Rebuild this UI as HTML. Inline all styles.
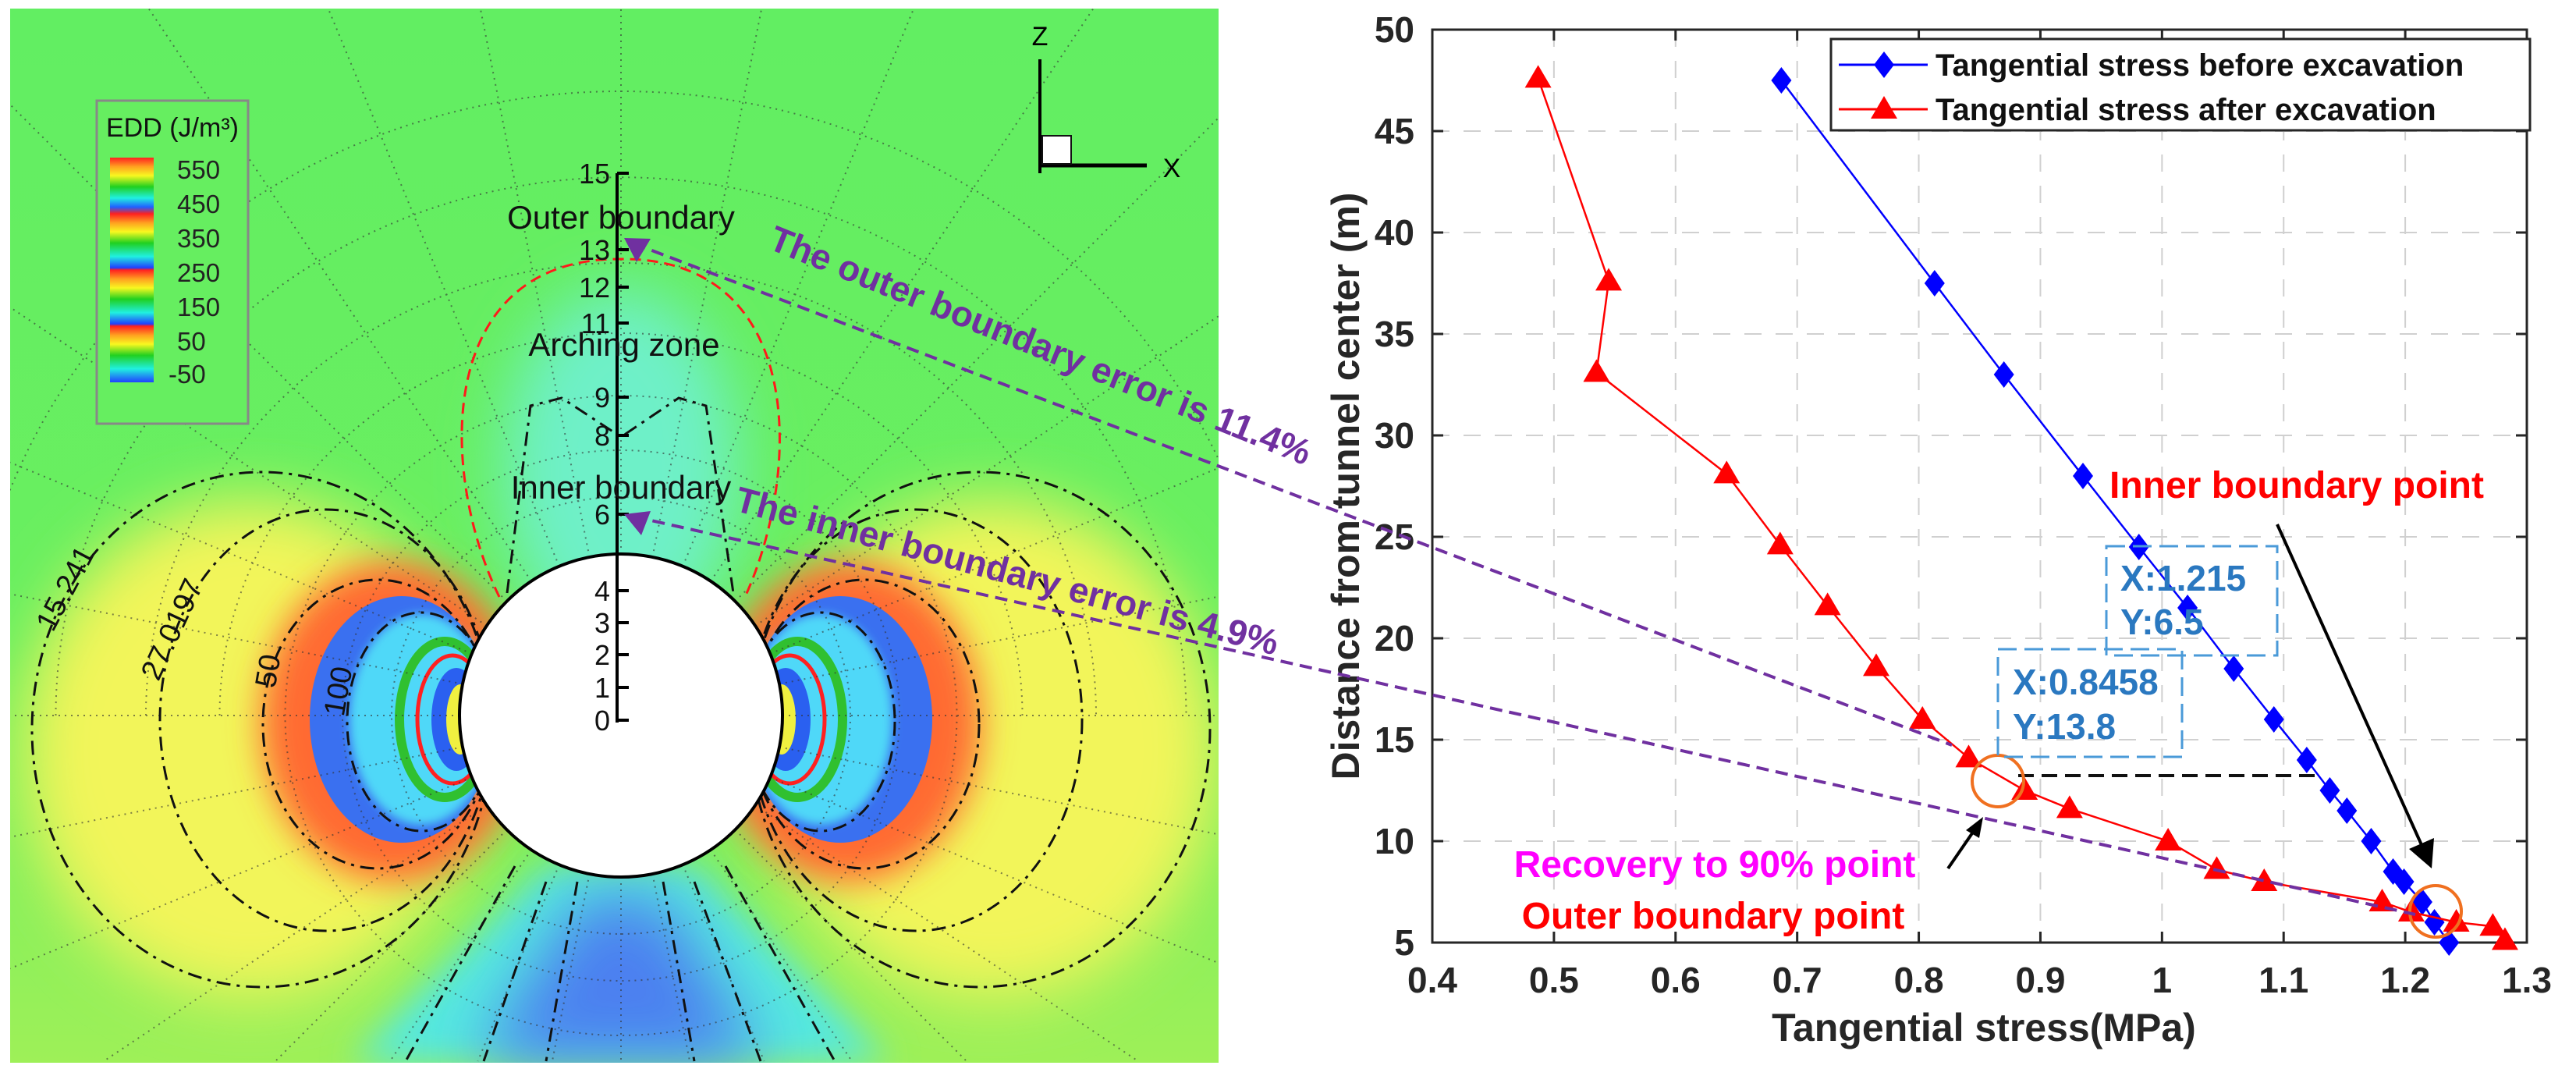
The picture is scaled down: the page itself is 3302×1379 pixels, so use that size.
<!DOCTYPE html>
<html><head><meta charset="utf-8"><style>
html,body{margin:0;padding:0;background:#fff;width:3302px;height:1379px;overflow:hidden;}
svg{display:block;}
text{font-family:"Liberation Sans",Arial,sans-serif;}
.nar{font-family:"Liberation Sans Narrow","Liberation Sans",sans-serif;}
</style></head><body>
<svg id="fig" width="3302" height="1379" viewBox="0 0 3302 1379" xmlns="http://www.w3.org/2000/svg">
<defs>
<clipPath id="pclip"><rect x="13" y="11" width="1549" height="1351"/></clipPath>
<filter id="b40" filterUnits="userSpaceOnUse" x="13" y="11" width="1549" height="1351"><feGaussianBlur stdDeviation="40"/></filter>
<filter id="b25" filterUnits="userSpaceOnUse" x="13" y="11" width="1549" height="1351"><feGaussianBlur stdDeviation="22"/></filter>
<filter id="b8" filterUnits="userSpaceOnUse" x="13" y="11" width="1549" height="1351"><feGaussianBlur stdDeviation="6"/></filter>
<linearGradient id="bg" x1="0" y1="0" x2="0" y2="1">
<stop offset="0" stop-color="#62ee62"/><stop offset="0.6" stop-color="#6aef60"/><stop offset="1" stop-color="#9ef058"/></linearGradient>
<linearGradient id="cbar" x1="0" y1="0" x2="0" y2="1">
<stop offset="0" stop-color="#ff2020"/><stop offset="0.04" stop-color="#ffa020"/><stop offset="0.08" stop-color="#f8f820"/><stop offset="0.13" stop-color="#20d020"/><stop offset="0.18" stop-color="#20f0e0"/><stop offset="0.22" stop-color="#2060ff"/>
<stop offset="0.25" stop-color="#ff2020"/><stop offset="0.29" stop-color="#ffa020"/><stop offset="0.33" stop-color="#f8f820"/><stop offset="0.38" stop-color="#20d020"/><stop offset="0.44" stop-color="#20f0e0"/><stop offset="0.49" stop-color="#2040ff"/>
<stop offset="0.5" stop-color="#ff2020"/><stop offset="0.54" stop-color="#ffa020"/><stop offset="0.58" stop-color="#f8f820"/><stop offset="0.63" stop-color="#20d020"/><stop offset="0.69" stop-color="#20f0e0"/><stop offset="0.74" stop-color="#2040ff"/>
<stop offset="0.75" stop-color="#ff2020"/><stop offset="0.79" stop-color="#ffa020"/><stop offset="0.83" stop-color="#f8f820"/><stop offset="0.88" stop-color="#20d020"/><stop offset="0.94" stop-color="#20f0e0"/><stop offset="1" stop-color="#2040ff"/>
</linearGradient>
</defs>

<g clip-path="url(#pclip)">
<rect x="13" y="11" width="1549" height="1351" fill="url(#bg)"/>
<ellipse cx="796" cy="600" rx="150" ry="230" fill="#6ef0c8" filter="url(#b40)"/>
<ellipse cx="320" cy="960" rx="290" ry="320" fill="#f2f55a" filter="url(#b40)"/>
<ellipse cx="1272" cy="960" rx="290" ry="320" fill="#f2f55a" filter="url(#b40)"/>
<ellipse cx="505" cy="925" rx="170" ry="205" fill="#ff6a30" filter="url(#b25)"/>
<ellipse cx="1087" cy="925" rx="170" ry="205" fill="#ff6a30" filter="url(#b25)"/>
<polygon points="700,1110 892,1110 1140,1362 450,1362" fill="#55e8e0" filter="url(#b25)"/>
<polygon points="745,1150 850,1150 980,1362 610,1362" fill="#4c80f0" filter="url(#b40)"/>
<ellipse cx="515" cy="922" rx="118" ry="158" fill="#3a70f0"/>
<ellipse cx="1077" cy="922" rx="118" ry="158" fill="#3a70f0"/>
<ellipse cx="540" cy="922" rx="92" ry="135" fill="#50d8f8" filter="url(#b8)"/>
<ellipse cx="1052" cy="922" rx="92" ry="135" fill="#50d8f8" filter="url(#b8)"/>
<ellipse cx="570" cy="922" rx="58" ry="100" fill="none" stroke="#30c030" stroke-width="12"/>
<ellipse cx="1022" cy="922" rx="58" ry="100" fill="none" stroke="#30c030" stroke-width="12"/>
<ellipse cx="580" cy="922" rx="45" ry="82" fill="none" stroke="#ff2020" stroke-width="5"/>
<ellipse cx="1012" cy="922" rx="45" ry="82" fill="none" stroke="#ff2020" stroke-width="5"/>
<ellipse cx="585" cy="922" rx="32" ry="66" fill="#2a60f0"/>
<ellipse cx="1007" cy="922" rx="32" ry="66" fill="#2a60f0"/>
<ellipse cx="590" cy="922" rx="18" ry="45" fill="#f0f040"/>
<ellipse cx="1002" cy="922" rx="18" ry="45" fill="#f0f040"/>
<g id="gridg" stroke="#333" stroke-width="2" stroke-dasharray="2 6" fill="none" opacity="0.6"></g>
<g fill="none" stroke="#111" stroke-width="3" stroke-dasharray="18 8 4 8">
<ellipse cx="336" cy="935" rx="295" ry="330"/>
<ellipse cx="1256" cy="935" rx="295" ry="330"/>
<ellipse cx="418" cy="923" rx="213" ry="270"/>
<ellipse cx="1174" cy="923" rx="213" ry="270"/>
<ellipse cx="484" cy="928" rx="147" ry="185"/>
<ellipse cx="1108" cy="928" rx="147" ry="185"/>
<ellipse cx="540" cy="925" rx="95" ry="140"/>
<ellipse cx="1052" cy="925" rx="95" ry="140"/>
<path d="M650,760 L680,520 L720,510 L796,560 L870,510 L905,520 L940,760"/>
<path d="M700,1130 L620,1360 M740,1130 L700,1360 M850,1130 L890,1360 M890,1130 L975,1360 M660,1110 L520,1360 M930,1110 L1070,1360"/>
</g>
<path d="M640,765 C560,600 560,330 796,332 C1030,330 1030,600 955,765" fill="none" stroke="#ff1a1a" stroke-width="3" stroke-dasharray="14 8"/>
<circle cx="796" cy="917" r="207" fill="#fff" stroke="#000" stroke-width="4"/>
</g>

<g>
<rect x="124" y="129" width="194" height="414" fill="#66ee60" stroke="#888" stroke-width="3"/>
<text x="136" y="175" font-size="34" class="nar" fill="#111">EDD (J/m³)</text>
<rect x="141" y="202" width="56" height="288" fill="url(#cbar)"/>
<g font-size="33" class="nar" fill="#222">
<text x="227" y="229">550</text><text x="227" y="273">450</text><text x="227" y="317">350</text><text x="227" y="361">250</text><text x="227" y="405">150</text><text x="227" y="449">50</text><text x="216" y="491">-50</text>
</g></g>

<g class="nar">
<line x1="791" y1="222" x2="791" y2="926" stroke="#000" stroke-width="4"/>
<g id="scaleTicks" font-size="36" fill="#111" text-anchor="end"></g>
<text x="796" y="293" font-size="42" text-anchor="middle" fill="#111">Outer boundary</text>
<text x="800" y="456" font-size="42" text-anchor="middle" fill="#111">Arching zone</text>
<text x="796" y="639" font-size="42" text-anchor="middle" fill="#111">Inner boundary</text>
</g>
<g font-size="38" class="nar" fill="#111">
<text transform="translate(95,760) rotate(-62)" text-anchor="middle">15.241</text>
<text transform="translate(232,812) rotate(-65)" text-anchor="middle">27.0197</text>
<text transform="translate(356,862) rotate(-80)" text-anchor="middle">50</text>
<text transform="translate(446,888) rotate(-80)" text-anchor="middle">100</text>
</g>
<g>
<line x1="1333" y1="76" x2="1333" y2="222" stroke="#000" stroke-width="4"/>
<line x1="1333" y1="212" x2="1470" y2="212" stroke="#000" stroke-width="5"/>
<rect x="1336" y="174" width="37" height="36" fill="#fff" stroke="#111" stroke-width="2"/>
<text x="1333" y="58" font-size="34" text-anchor="middle" class="nar">Z</text>
<text x="1502" y="227" font-size="34" text-anchor="middle" class="nar">X</text>
</g>

<g id="chart"></g>

<g>
<line x1="812" y1="312" x2="2502" y2="955" stroke="#7030a0" stroke-width="4" stroke-dasharray="16 9"/>
<line x1="812" y1="662" x2="3096" y2="1172" stroke="#7030a0" stroke-width="4" stroke-dasharray="16 9"/>
<polygon points="800,305 834,306 816,336" fill="#7030a0"/>
<polygon points="800,659 834,655 822,686" fill="#7030a0"/>
<text transform="translate(983,318) rotate(22)" font-size="46" font-weight="bold" fill="#7030a0">The outer boundary error is 11.4%</text>
<text transform="translate(940,654) rotate(15)" font-size="46" font-weight="bold" fill="#7030a0">The inner boundary error is 4.9%</text>
</g>

<script>
const yTicks = [5,10,15,20,25,30,35,40,45,50];
const xTicks = [0.4,0.5,0.6,0.7,0.8,0.9,1,1.1,1.2,1.3];
const xTickLabels = ["0.4","0.5","0.6","0.7","0.8","0.9","1","1.1","1.2","1.3"];
const beforeX = [0.687,0.813,0.870,0.935,0.981,1.021,1.059,1.092,1.119,1.138,1.152,1.172,1.190,1.199,1.214,1.224,1.236];
const beforeY = [47.5,37.5,33.0,28.0,24.5,21.5,18.5,16.0,14.0,12.5,11.5,10.0,8.5,8.0,7.0,6.0,5.0];
const afterX = [0.487,0.545,0.535,0.642,0.686,0.725,0.765,0.803,0.841,0.887,0.924,1.005,1.045,1.084,1.181,1.205,1.242,1.272,1.282];
const afterY = [47.6,37.6,33.1,28.1,24.6,21.6,18.6,16.0,14.1,12.5,11.6,10.0,8.6,8.0,7.0,6.5,6.0,5.8,5.1];
const scaleTickVals = [15,13,12,11,9,8,6,4,3,2,1,0];
const scaleTickPos = [222,320,368,414,509,558,659,757,798,839,881,923];

const NS="http://www.w3.org/2000/svg";
function mk(tag, attrs, parent){const e=document.createElementNS(NS,tag);for(const k in attrs)e.setAttribute(k,attrs[k]);parent.appendChild(e);return e;}
const L=1836,R=3239,T=38,B=1208;
const xmin=0.4,xmax=1.3,ymin=5,ymax=50;
function sx(v){return L+(v-xmin)/(xmax-xmin)*(R-L);}
function sy(v){return B-(v-ymin)/(ymax-ymin)*(B-T);}

const st=document.getElementById('scaleTicks');
scaleTickVals.forEach((v,i)=>{
  const y=scaleTickPos[i];
  const ln=mk('line',{x1:791,y1:y,x2:806,y2:y,stroke:'#000','stroke-width':4},st);
  
  
  const t=mk('text',{x:782,y:y+13},st); t.textContent=v;
  
  
});

// mesh grid (endpoints clamped to the panel)
const gg=document.getElementById('gridg');
const PX0=13,PX1=1562,PY0=11,PY1=1360,CX=796,CY=917;
for(let a=-180;a<180;a+=11.25){
  const r=a*Math.PI/180, dx=Math.cos(r), dy=Math.sin(r);
  let t=1e9;
  if(dx>1e-6)t=Math.min(t,(PX1-CX)/dx); if(dx<-1e-6)t=Math.min(t,(PX0-CX)/dx);
  if(dy>1e-6)t=Math.min(t,(PY1-CY)/dy); if(dy<-1e-6)t=Math.min(t,(PY0-CY)/dy);
  mk('line',{x1:CX+215*dx,y1:CY+215*dy,x2:CX+t*dx,y2:CY+t*dy},gg);
}
[280,340,410].forEach(r=>mk('ellipse',{cx:CX,cy:CY,rx:r*1.05,ry:r},gg));
[490,580,690,800].forEach(r=>mk('path',{d:`M${CX-r*1.05},${CY} A${r*1.05},${r} 0 0 1 ${CX+r*1.05},${CY}`},gg));

const c=document.getElementById('chart');
const grid=mk('g',{stroke:'#d0d0d0','stroke-width':2,'stroke-dasharray':'22 18'},c);


xTicks.slice(1,-1).forEach(v=>mk('line',{x1:sx(v),y1:T,x2:sx(v),y2:B},grid));
yTicks.slice(1,-1).forEach(v=>mk('line',{x1:L,y1:sy(v),x2:R,y2:sy(v)},grid));
const box=mk('rect',{x:L,y:T,width:R-L,height:B-T,fill:'none',stroke:'#262626','stroke-width':3},c);


const tk=mk('g',{stroke:'#262626','stroke-width':3},c);


xTicks.forEach((v,i)=>{
  mk('line',{x1:sx(v),y1:B,x2:sx(v),y2:B-14},tk);mk('line',{x1:sx(v),y1:T,x2:sx(v),y2:T+14},tk);
  const t=mk('text',{x:sx(v),y:1272,'text-anchor':'middle','font-size':46,'font-weight':'bold',fill:'#262626'},c);
  t.textContent=xTickLabels[i];
  
  
});
yTicks.forEach(v=>{
  mk('line',{x1:L,y1:sy(v),x2:L+14,y2:sy(v)},tk);mk('line',{x1:R,y1:sy(v),x2:R-14,y2:sy(v)},tk);
  const t=mk('text',{x:1813,y:sy(v)+16,'text-anchor':'end','font-size':46,'font-weight':'bold',fill:'#262626'},c);
  t.textContent=v;
  
  
});
const xl=mk('text',{x:2543,y:1334,'text-anchor':'middle','font-size':50,'font-weight':'bold',fill:'#262626'},c);
xl.textContent='Tangential stress(MPa)';


const yl=mk('text',{transform:'translate(1742,623) rotate(-90)','text-anchor':'middle','font-size':50,'font-weight':'bold',fill:'#262626'},c);
yl.textContent='Distance from tunnel center (m)';



function diamond(x,y,p,col){const e=mk('polygon',{points:`${x},${y-17} ${x+13},${y} ${x},${y+17} ${x-13},${y}`,fill:col},p);return e;}
function tri(x,y,p,col){const e=mk('polygon',{points:`${x},${y-17} ${x+17},${y+12} ${x-17},${y+12}`,fill:col},p);return e;}

const gb=mk('g',{},c);


const pb=mk('polyline',{points:beforeX.map((v,i)=>sx(v)+','+sy(beforeY[i])).join(' '),fill:'none',stroke:'#0000ff','stroke-width':2.5},gb);


beforeX.forEach((v,i)=>{const m=diamond(sx(v),sy(beforeY[i]),gb,'#0000ff');
  
  });
const ga=mk('g',{},c);


const pa=mk('polyline',{points:afterX.map((v,i)=>sx(v)+','+sy(afterY[i])).join(' '),fill:'none',stroke:'#ff0000','stroke-width':2.5},ga);


afterX.forEach((v,i)=>{const m=tri(sx(v),sy(afterY[i]),ga,'#ff0000');
  
  });

const lg=mk('g',{},c);


mk('rect',{x:2347,y:50,width:896,height:117,fill:'#fff',stroke:'#262626','stroke-width':3},lg);
mk('line',{x1:2357,y1:83,x2:2471,y2:83,stroke:'#0000ff','stroke-width':3},lg);
diamond(2415,83,lg,'#0000ff');
mk('line',{x1:2357,y1:140,x2:2471,y2:140,stroke:'#ff0000','stroke-width':3},lg);
tri(2415,140,lg,'#ff0000');
const t1=mk('text',{x:2481,y:97,'font-size':40,'font-weight':'bold',fill:'#111'},lg);t1.textContent='Tangential stress before excavation';


const t2=mk('text',{x:2481,y:154,'font-size':40,'font-weight':'bold',fill:'#111'},lg);t2.textContent='Tangential stress after excavation';



const an=mk('g',{},c);


mk('line',{x1:2587,y1:994,x2:2975,y2:994,stroke:'#111','stroke-width':4,'stroke-dasharray':'20 10'},an);
mk('circle',{cx:2561,cy:1001,r:33,fill:'none',stroke:'#f07020','stroke-width':4},an);
mk('circle',{cx:3122,cy:1168,r:33,fill:'none',stroke:'#f07020','stroke-width':4},an);
mk('rect',{x:2700,y:700,width:219,height:140,fill:'none',stroke:'#4a9ad8','stroke-width':3,'stroke-dasharray':'24 10'},an);
mk('rect',{x:2561,y:832,width:236,height:138,fill:'none',stroke:'#4a9ad8','stroke-width':3,'stroke-dasharray':'24 10'},an);
const ab=[['X:1.215',2718,757],['Y:6.5',2718,813],['X:0.8458',2580,890],['Y:13.8',2580,947]];
ab.forEach(a=>{const t=mk('text',{x:a[1],y:a[2],'font-size':46,'font-weight':'bold',fill:'#2a78c0'},an);t.textContent=a[0];
  
  });
const ib=mk('text',{x:2704,y:638,'font-size':48,'font-weight':'bold',fill:'#ff0000'},an);ib.textContent='Inner boundary point';


const rc=mk('text',{x:2198,y:1124,'text-anchor':'middle','font-size':48,'font-weight':'bold',fill:'#ff00ff'},an);rc.textContent='Recovery to 90% point';


const ob=mk('text',{x:2196,y:1190,'text-anchor':'middle','font-size':48,'font-weight':'bold',fill:'#ff0000'},an);ob.textContent='Outer boundary point';


mk('line',{x1:2919,y1:672,x2:3105,y2:1085,stroke:'#000','stroke-width':4},an);
mk('polygon',{points:'3117,1113 3088,1088 3120,1074',fill:'#000'},an);
mk('line',{x1:2497,y1:1113,x2:2530,y2:1065,stroke:'#000','stroke-width':4},an);
mk('polygon',{points:'2542,1047 2520,1064 2537,1074',fill:'#000'},an);
</script>
</svg>
</body></html>
